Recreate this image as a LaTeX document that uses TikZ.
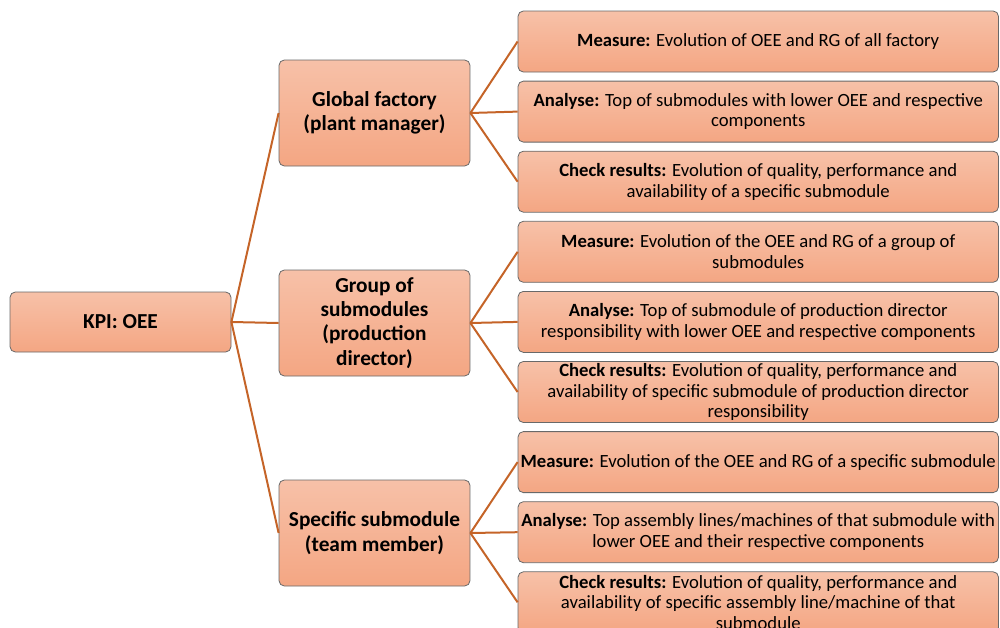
\documentclass[tikz,border=0pt]{standalone}
\usepackage{fontspec}
\setmainfont{Carlito}
\definecolor{boxtop}{RGB}{247,193,168}
\definecolor{boxbottom}{RGB}{244,166,131}
\definecolor{boxborder}{RGB}{105,105,105}
\definecolor{linkcol}{RGB}{197,100,40}
\tikzset{
  card/.style={draw=boxborder, line width=0.6pt, rounded corners=4pt,
    top color=boxtop, bottom color=boxbottom, align=center,
    inner sep=0pt, font=\fontsize{16}{18.2}\selectfont\bfseries},
  rootbox/.style={card, minimum width=221*0.75pt, minimum height=60*0.75pt},
  midbox/.style={card, minimum width=191*0.75pt, minimum height=106*0.75pt},
  leafbox/.style={card, minimum width=480.5*0.75pt, minimum height=61*0.75pt,
    font=\fontsize{14}{15.4}\selectfont},
  link/.style={draw=linkcol, line width=1.5pt},
}
\begin{document}
\begin{tikzpicture}[x=0.75pt, y=-0.75pt]
\useasboundingbox (0,0) rectangle (1000,628);
\clip (0,0) rectangle (1000,628);

% root
\node[rootbox] (kpi) at (120.5,322) {KPI: OEE};

% second level
\node[midbox] (glob) at (374.5,113) {Global factory\\(plant manager)};
\node[midbox] (grp) at (374.5,323) {Group of\\submodules\\(production\\director)};
\node[midbox] (spec) at (374.5,533) {Specific submodule\\(team member)};

% third level
\node[leafbox] (g1) at (758.25,41.5) {\textbf{Measure:} Evolution of OEE and RG of all factory};
\node[leafbox] (g2) at (758.25,111.6) {\textbf{Analyse:} Top of submodules with lower OEE and respective\\components};
\node[leafbox] (g3) at (758.25,181.7) {\textbf{Check results:} Evolution of quality, performance and\\availability of a specific submodule};
\node[leafbox] (p1) at (758.25,251.8) {\textbf{Measure:} Evolution of the OEE and RG of a group of\\submodules};
\node[leafbox] (p2) at (758.25,321.9) {\textbf{Analyse:} Top of submodule of production director\\responsibility with lower OEE and respective components};
\node[leafbox] (p3) at (758.25,392) {\textbf{Check results:} Evolution of quality, performance and\\availability of specific submodule of production director\\responsibility};
\node[leafbox] (s1) at (758.25,462.1) {\textbf{Measure:} Evolution of the OEE and RG of a specific submodule};
\node[leafbox] (s2) at (758.25,532.2) {\textbf{Analyse:} Top assembly lines/machines of that submodule with\\lower OEE and their respective components};
\node[leafbox] (s3) at (758.25,602.3) {\textbf{Check results:} Evolution of quality, performance and\\availability of specific assembly line/machine of that\\submodule};

% connectors
\foreach \m in {glob,grp,spec}
  \draw[link] (kpi.east) -- (\m.west);
\foreach \l in {g1,g2,g3}
  \draw[link] (glob.east) -- (\l.west);
\foreach \l in {p1,p2,p3}
  \draw[link] (grp.east) -- (\l.west);
\foreach \l in {s1,s2,s3}
  \draw[link] (spec.east) -- (\l.west);
\end{tikzpicture}
\end{document}
